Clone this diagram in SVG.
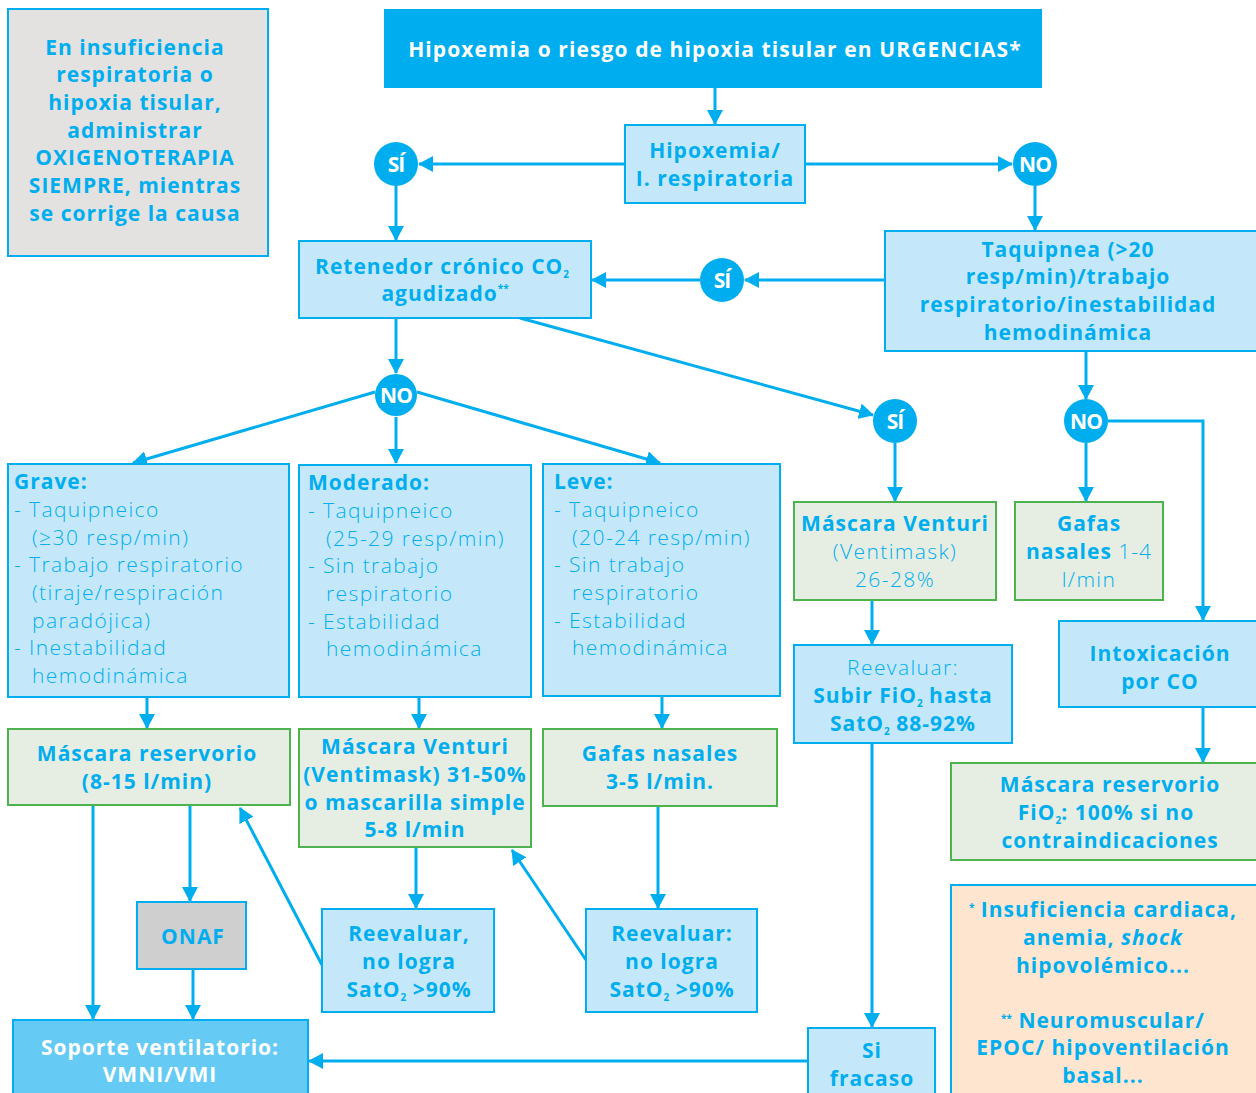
<svg xmlns="http://www.w3.org/2000/svg" width="1256" height="1093" viewBox="0 0 1256 1093">
<defs>
<marker id="ah" markerWidth="16" markerHeight="16" refX="14" refY="8" orient="auto" markerUnits="userSpaceOnUse"><path d="M0,0 L15,8 L0,16 Z" fill="#00AEEF"/></marker>
<style>
.c{stroke:#00AEEF;stroke-width:3;fill:none;marker-end:url(#ah)}
.lb{fill:#C4E8FA;stroke:#00AEEF;stroke-width:2}
.gr{fill:#E6EDE3;stroke:#4DB34E;stroke-width:2}
.t{font-family:"Open Sans","Lato","Liberation Sans",sans-serif;fill:#00AEEF;font-size:21px;font-weight:700;text-anchor:middle;letter-spacing:1px}
.l{font-family:"Open Sans","Lato","Liberation Sans",sans-serif;fill:#00AEEF;font-size:21px;font-weight:300;letter-spacing:1.4px}
.lc{font-family:"Open Sans","Lato","Liberation Sans",sans-serif;fill:#00AEEF;font-size:21px;font-weight:300;text-anchor:middle;letter-spacing:1.4px}
.w{fill:#FFFFFF}
.sub{font-size:10px;letter-spacing:0}
.circ{fill:#00AEEF}
.ct{font-family:"Open Sans","Lato","Liberation Sans",sans-serif;fill:#FFFFFF;font-size:21px;font-weight:700;text-anchor:middle;letter-spacing:-1px}
</style>
</defs>

<g id="connectors">
<line class="c" x1="715" y1="88" x2="715" y2="124"/>
<line class="c" x1="625" y1="164" x2="419" y2="164"/>
<line class="c" x1="805" y1="164" x2="1012" y2="164"/>
<line class="c" x1="396" y1="186" x2="396" y2="240"/>
<line class="c" x1="1035" y1="186" x2="1035" y2="230"/>
<line class="c" x1="885" y1="280" x2="745" y2="280"/>
<line class="c" x1="700" y1="280" x2="592" y2="280"/>
<line class="c" x1="396" y1="318" x2="396" y2="373"/>
<line class="c" x1="520" y1="318" x2="873" y2="415"/>
<line class="c" x1="375" y1="392" x2="133" y2="463"/>
<line class="c" x1="396" y1="417" x2="396" y2="463"/>
<line class="c" x1="417" y1="392" x2="660" y2="463"/>
<line class="c" x1="895" y1="443" x2="895" y2="501"/>
<line class="c" x1="1086" y1="351" x2="1086" y2="399"/>
<line class="c" x1="1086" y1="443" x2="1086" y2="501"/>
<polyline class="c" points="1108,421 1203,421 1203,620"/>
<line class="c" x1="872" y1="600" x2="872" y2="644"/>
<line class="c" x1="872" y1="743" x2="872" y2="1027"/>
<line class="c" x1="1203" y1="707" x2="1203" y2="762"/>
<line class="c" x1="147" y1="697" x2="147" y2="728"/>
<line class="c" x1="419" y1="697" x2="419" y2="728"/>
<line class="c" x1="662" y1="696" x2="662" y2="728"/>
<line class="c" x1="93" y1="805" x2="93" y2="1019"/>
<line class="c" x1="190" y1="805" x2="190" y2="901"/>
<line class="c" x1="193" y1="969" x2="193" y2="1019"/>
<line class="c" x1="322" y1="965" x2="240" y2="808"/>
<line class="c" x1="416" y1="847" x2="416" y2="908"/>
<line class="c" x1="658" y1="806" x2="658" y2="908"/>
<line class="c" x1="586" y1="960" x2="512" y2="850"/>
<line class="c" x1="808" y1="1061" x2="309" y2="1061"/>
</g>

<g id="note">
<rect x="8" y="9" width="260" height="247" fill="#E3E2E1" stroke="#00AEEF" stroke-width="2"/>
<text class="t" x="135" y="55">En insuficiencia</text>
<text class="t" x="135" y="82">respiratoria o</text>
<text class="t" x="135" y="110">hipoxia tisular,</text>
<text class="t" x="135" y="138">administrar</text>
<text class="t" x="135" y="165">OXIGENOTERAPIA</text>
<text class="t" x="135" y="193">SIEMPRE, mientras</text>
<text class="t" x="135" y="221">se corrige la causa</text>
</g>

<g id="header">
<rect x="384" y="9" width="658" height="79" fill="#00AEEF"/>
<text class="t w" x="715" y="57" style="font-size:21px;letter-spacing:1.1px">Hipoxemia o riesgo de hipoxia tisular en URGENCIAS*</text>
</g>

<g id="hipoxemia">
<rect class="lb" x="625" y="125" width="180" height="78"/>
<text class="t" x="715" y="158">Hipoxemia/</text>
<text class="t" x="715" y="186">I. respiratoria</text>
</g>

<g id="si1"><circle class="circ" cx="396" cy="164" r="22"/><text class="ct" x="396" y="172">SÍ</text></g>
<g id="no1"><circle class="circ" cx="1035" cy="164" r="22"/><text class="ct" x="1035" y="172">NO</text></g>

<g id="retenedor">
<rect class="lb" x="299" y="241" width="292" height="77"/>
<text class="t" x="442" y="274">Retenedor crónico CO<tspan class="sub" dy="4">2</tspan></text>
<text class="t" x="445" y="301">agudizado<tspan class="sub" dy="-9">**</tspan></text>
</g>

<g id="taquipnea">
<rect class="lb" x="885" y="231" width="372" height="120"/>
<text class="t" x="1068" y="257">Taquipnea (&gt;20</text>
<text class="t" x="1068" y="284">resp/min)/trabajo</text>
<text class="t" x="1068" y="312">respiratorio/inestabilidad</text>
<text class="t" x="1068" y="340">hemodinámica</text>
</g>

<g id="si2"><circle class="circ" cx="722" cy="280" r="22"/><text class="ct" x="722" y="288">SÍ</text></g>
<g id="no2"><circle class="circ" cx="396" cy="395" r="21"/><text class="ct" x="396" y="403">NO</text></g>
<g id="si3"><circle class="circ" cx="895" cy="421" r="22"/><text class="ct" x="895" y="429">SÍ</text></g>
<g id="no3"><circle class="circ" cx="1086" cy="421" r="22"/><text class="ct" x="1086" y="429">NO</text></g>

<g id="grave">
<rect class="lb" x="8" y="464" width="281" height="233"/>
<text class="l" x="14" y="489" style="font-weight:700;letter-spacing:1px">Grave:</text>
<text class="l" x="14" y="517">- Taquipneico</text>
<text class="l" x="32" y="545">(≥30 resp/min)</text>
<text class="l" x="14" y="572">- Trabajo respiratorio</text>
<text class="l" x="32" y="600">(tiraje/respiración</text>
<text class="l" x="32" y="628">paradójica)</text>
<text class="l" x="14" y="655">- Inestabilidad</text>
<text class="l" x="32" y="683">hemodinámica</text>
</g>

<g id="moderado">
<rect class="lb" x="299" y="465" width="232" height="232"/>
<text class="l" x="308" y="490" style="font-weight:700;letter-spacing:1px">Moderado:</text>
<text class="l" x="308" y="518">- Taquipneico</text>
<text class="l" x="326" y="546">(25-29 resp/min)</text>
<text class="l" x="308" y="573">- Sin trabajo</text>
<text class="l" x="326" y="601">respiratorio</text>
<text class="l" x="308" y="629">- Estabilidad</text>
<text class="l" x="326" y="656">hemodinámica</text>
</g>

<g id="leve">
<rect class="lb" x="543" y="464" width="237" height="232"/>
<text class="l" x="554" y="489" style="font-weight:700;letter-spacing:1px">Leve:</text>
<text class="l" x="554" y="517">- Taquipneico</text>
<text class="l" x="572" y="545">(20-24 resp/min)</text>
<text class="l" x="554" y="572">- Sin trabajo</text>
<text class="l" x="572" y="600">respiratorio</text>
<text class="l" x="554" y="628">- Estabilidad</text>
<text class="l" x="572" y="655">hemodinámica</text>
</g>

<g id="venturi1">
<rect class="gr" x="794" y="502" width="202" height="98"/>
<text class="t" x="895" y="531">Máscara Venturi</text>
<text class="lc" x="895" y="559">(Ventimask)</text>
<text class="lc" x="895" y="587">26-28%</text>
</g>

<g id="gafas1">
<rect class="gr" x="1015" y="502" width="148" height="98"/>
<text class="t" x="1089" y="531">Gafas</text>
<text class="t" x="1089" y="559">nasales <tspan style="font-weight:300">1-4</tspan></text>
<text class="lc" x="1089" y="587">l/min</text>
</g>

<g id="reevaluar1">
<rect class="lb" x="794" y="645" width="218" height="98"/>
<text class="lc" x="903" y="675">Reevaluar:</text>
<text class="t" x="903" y="703">Subir FiO<tspan class="sub" dy="4">2</tspan><tspan dy="-4"> hasta</tspan></text>
<text class="t" x="903" y="731">SatO<tspan class="sub" dy="4">2</tspan><tspan dy="-4"> 88-92%</tspan></text>
</g>

<g id="intoxicacion">
<rect class="lb" x="1059" y="621" width="198" height="86"/>
<text class="t" x="1160" y="661">Intoxicación</text>
<text class="t" x="1160" y="689">por CO</text>
</g>

<g id="reservorio2">
<rect class="gr" x="951" y="763" width="306" height="97"/>
<text class="t" x="1110" y="792">Máscara reservorio</text>
<text class="t" x="1106" y="820">FiO<tspan class="sub" dy="4">2</tspan><tspan dy="-4">: 100% si no</tspan></text>
<text class="t" x="1110" y="848">contraindicaciones</text>
</g>

<g id="notas">
<rect x="951" y="885" width="306" height="210" fill="#FDE5D0" stroke="#00AEEF" stroke-width="2"/>
<text class="t" x="1103" y="917"><tspan class="sub" dy="-6">*</tspan><tspan dy="6"> Insuficiencia cardiaca,</tspan></text>
<text class="t" x="1103" y="945">anemia, <tspan font-style="italic">shock</tspan></text>
<text class="t" x="1103" y="973">hipovolémico...</text>
<text class="t" x="1103" y="1028"><tspan class="sub" dy="-6">**</tspan><tspan dy="6"> Neuromuscular/</tspan></text>
<text class="t" x="1103" y="1055">EPOC/ hipoventilación</text>
<text class="t" x="1103" y="1083">basal...</text>
</g>

<g id="reservorio1">
<rect class="gr" x="8" y="729" width="282" height="76"/>
<text class="t" x="147" y="761">Máscara reservorio</text>
<text class="t" x="147" y="789">(8-15 l/min)</text>
</g>

<g id="venturi2">
<rect class="gr" x="299" y="729" width="232" height="118"/>
<text class="t" x="415" y="754">Máscara Venturi</text>
<text class="t" x="415" y="782">(Ventimask) 31-50%</text>
<text class="t" x="415" y="810">o mascarilla simple</text>
<text class="t" x="415" y="837">5-8 l/min</text>
</g>

<g id="gafas2">
<rect class="gr" x="543" y="729" width="234" height="77"/>
<text class="t" x="660" y="761">Gafas nasales</text>
<text class="t" x="660" y="789">3-5 l/min.</text>
</g>

<g id="onaf">
<rect x="137" y="902" width="109" height="67" fill="#CFCFCF" stroke="#00AEEF" stroke-width="2"/>
<text class="t" x="193" y="944">ONAF</text>
</g>

<g id="reevaluar2">
<rect class="lb" x="322" y="909" width="172" height="103"/>
<text class="t" x="409" y="941">Reevaluar,</text>
<text class="t" x="409" y="969">no logra</text>
<text class="t" x="409" y="997">SatO<tspan class="sub" dy="4">2</tspan><tspan dy="-4"> &gt;90%</tspan></text>
</g>

<g id="reevaluar3">
<rect class="lb" x="586" y="909" width="171" height="103"/>
<text class="t" x="672" y="941">Reevaluar:</text>
<text class="t" x="672" y="969">no logra</text>
<text class="t" x="672" y="997">SatO<tspan class="sub" dy="4">2</tspan><tspan dy="-4"> &gt;90%</tspan></text>
</g>

<g id="soporte">
<rect x="13" y="1020" width="295" height="75" fill="#66CBF4" stroke="#00AEEF" stroke-width="2"/>
<text class="t w" x="160" y="1055">Soporte ventilatorio:</text>
<text class="t w" x="160" y="1082">VMNI/VMI</text>
</g>

<g id="fracaso">
<rect class="lb" x="808" y="1028" width="127" height="67"/>
<text class="t" x="872" y="1058">Si</text>
<text class="t" x="872" y="1086">fracaso</text>
</g>
</svg>
